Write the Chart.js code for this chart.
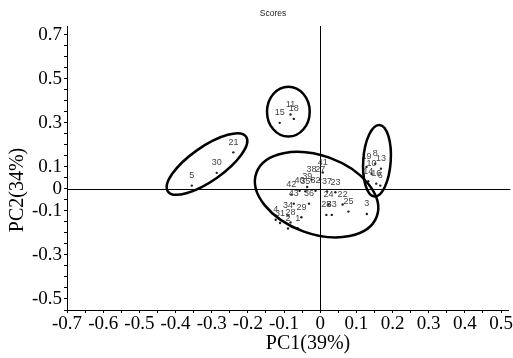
<!DOCTYPE html>
<html>
<head>
<meta charset="utf-8">
<script src="https://cdn.jsdelivr.net/npm/chart.js@4.4.1/dist/chart.umd.min.js"></script>
<style>
  html, body { margin: 0; padding: 0; background: #fff; }
  #wrap { width: 513px; height: 358px; }
</style>
</head>
<body>
<div id="wrap"><canvas id="scoresChart" width="513" height="358"></canvas></div>
<script>
// sample ids and their scores on PC1 / PC2
const sampleIds = ["21", "30", "5",
  "11", "18", "15",
  "19", "8", "13", "10", "14", "16", "6",
  "42", "40", "35", "39", "32", "38", "27", "41", "37", "23",
  "43", "36", "24", "22", "34", "29", "28", "33", "25", "3",
  "4", "31", "28", "2", "1"];
const pc1 = [-0.240, -0.286, -0.355,
  -0.082, -0.073, -0.112,
  0.128, 0.152, 0.168, 0.142, 0.133, 0.155, 0.166,
  -0.080, -0.057, -0.041, -0.036, -0.013, -0.024, 0.000, 0.007, 0.019, 0.042,
  -0.073, -0.031, 0.023, 0.062, -0.089, -0.052, 0.017, 0.032, 0.078, 0.129,
  -0.123, -0.111, -0.082, -0.089, -0.062];
const pc2 = [0.166, 0.073, 0.015,
  0.338, 0.318, 0.300,
  0.100, 0.114, 0.092, 0.068, 0.035, 0.024, 0.015,
  -0.026, -0.008, -0.011, 0.009, -0.008, 0.042, 0.042, 0.075, -0.012, -0.015,
  -0.067, -0.067, -0.071, -0.071, -0.121, -0.129, -0.118, -0.118, -0.103, -0.114,
  -0.140, -0.155, -0.152, -0.180, -0.179];

// axis tick labels
const xTickLabels = [-0.7, -0.6, -0.5, -0.4, -0.3, -0.2, -0.1, 0, 0.1, 0.2, 0.3, 0.4, 0.5];
const yTickLabels = [0.7, 0.5, 0.3, 0.1, 0, -0.1, -0.3, -0.5];

// group ellipses (centre in score units, radii in PC1 units, tilt in degrees)
const groupCx = [-0.313, -0.088, -0.010, 0.157];
const groupCy = [0.113, 0.351, -0.026, 0.128];
const groupRx = [0.132, 0.059, 0.177, 0.038];
const groupRy = [0.047, 0.069, 0.108, 0.099];
const groupTilt = [-35, 0, 20, 4];

const serif = "'Liberation Serif', 'Times New Roman', serif";
const sans = "'Liberation Sans', Arial, sans-serif";

function minorTicks(min, max) {
  const out = [];
  for (let i = Math.ceil(min * 20); i <= Math.floor(max * 20); i++) {
    out.push({ value: Math.round(i * 5) / 100 });
  }
  return out;
}

function tickText(list) {
  return function (value) {
    const hit = list.find((v) => Math.abs(v - value) < 1e-6);
    if (hit === undefined) return "";
    return String(hit);
  };
}

// zero lines through the origin
const originLines = {
  id: "originLines",
  beforeDatasetsDraw(chart) {
    const { ctx, chartArea, scales } = chart;
    const x0 = Math.round(scales.x.getPixelForValue(0)) + 0.5;
    const y0 = Math.round(scales.y.getPixelForValue(0)) + 0.5;
    ctx.save();
    ctx.strokeStyle = "#000";
    ctx.lineWidth = 1;
    ctx.beginPath();
    ctx.moveTo(x0, chartArea.top);
    ctx.lineTo(x0, chartArea.bottom);
    ctx.moveTo(chartArea.left, y0);
    ctx.lineTo(chartArea.right + 2, y0);
    ctx.stroke();
    ctx.restore();
  },
};

// sample numbers above each point, and group ellipses
const annotations = {
  id: "annotations",
  afterDatasetsDraw(chart) {
    const { ctx, scales } = chart;
    const meta = chart.getDatasetMeta(0);
    ctx.save();
    ctx.font = "9px " + sans;
    ctx.fillStyle = "#444";
    ctx.textAlign = "center";
    ctx.textBaseline = "middle";
    meta.data.forEach((pt, i) => {
      ctx.fillText(sampleIds[i], pt.x, pt.y - 10);
    });

    const unit = scales.x.getPixelForValue(1) - scales.x.getPixelForValue(0);
    ctx.strokeStyle = "#000";
    ctx.lineWidth = 2.5;
    for (let i = 0; i < groupCx.length; i++) {
      ctx.beginPath();
      ctx.ellipse(
        scales.x.getPixelForValue(groupCx[i]),
        scales.y.getPixelForValue(groupCy[i]),
        groupRx[i] * unit,
        groupRy[i] * unit,
        (groupTilt[i] * Math.PI) / 180,
        0,
        Math.PI * 2
      );
      ctx.stroke();
    }

    // titles
    ctx.fillStyle = "#222";
    ctx.font = "8.5px " + sans;
    ctx.fillText("Scores", 273, 14);
    ctx.fillStyle = "#000";
    ctx.font = "20px " + serif;
    ctx.fillText("PC1(39%)", 308, 344);
    ctx.translate(18, 190);
    ctx.rotate(-Math.PI / 2);
    ctx.fillText("PC2(34%)", 0, 0);
    ctx.restore();
  },
};

const ctx = document.getElementById("scoresChart").getContext("2d");
const scoresChart = new Chart(ctx, {
  type: "scatter",
  data: {
    datasets: [
      {
        label: "Scores",
        data: pc1.map((v, i) => ({ x: v, y: pc2[i] })),
        pointRadius: 1.2,
        pointBackgroundColor: "#222",
        pointBorderWidth: 0,
      },
    ],
  },
  options: {
    responsive: false,
    animation: false,
    devicePixelRatio: 1,
    layout: { padding: { top: 26, right: 2, left: 0, bottom: 0 } },
    plugins: {
      legend: { display: false },
      tooltip: { enabled: false },
      title: { display: false },
    },
    scales: {
      x: {
        type: "linear",
        min: -0.7,
        max: 0.52,
        afterBuildTicks: (s) => { s.ticks = minorTicks(-0.7, 0.52); },
        afterFit: (s) => { s.height = 48; },
        ticks: {
          autoSkip: false,
          maxRotation: 0,
          padding: 0,
          color: "#000",
          font: { family: serif, size: 19 },
          callback: tickText(xTickLabels),
        },
        grid: { drawOnChartArea: false, tickLength: 3, color: "#000" },
        border: { display: true, color: "#000", width: 1 },
      },
      y: {
        type: "linear",
        min: -0.55,
        max: 0.74,
        afterBuildTicks: (s) => { s.ticks = minorTicks(-0.55, 0.74); },
        afterFit: (s) => { s.width = 67; },
        ticks: {
          autoSkip: false,
          padding: 2,
          color: "#000",
          font: { family: serif, size: 19 },
          callback: tickText(yTickLabels),
        },
        grid: { drawOnChartArea: false, tickLength: 3, color: "#000" },
        border: { display: true, color: "#000", width: 1 },
      },
    },
  },
  plugins: [originLines, annotations],
});
</script>
</body>
</html>
